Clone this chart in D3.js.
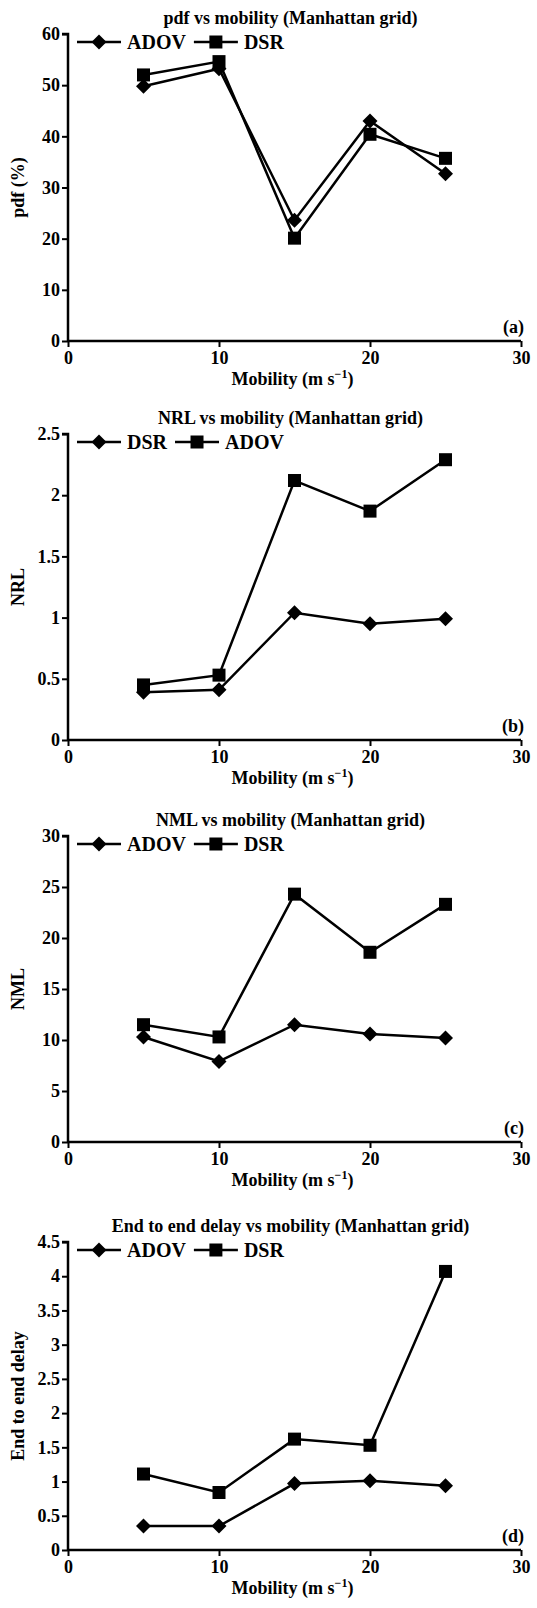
<!DOCTYPE html>
<html>
<head>
<meta charset="utf-8">
<script src="https://cdn.jsdelivr.net/npm/d3@7"></script>
<style>
  body { margin: 0; background: #fff; }
  text { font-family: "Liberation Serif", "Times New Roman", serif; font-weight: bold; fill: #000; }
</style>
</head>
<body>
<div id="chart"></div>
<script>
// data
var mobility = [5, 10, 15, 20, 25];
var xTicks = [0, 10, 20, 30];

var pdfAdov = [49.8, 53.2, 23.6, 43.0, 32.7];
var pdfDsr = [52.0, 54.6, 20.1, 40.4, 35.7];
var pdfTicks = [0, 10, 20, 30, 40, 50, 60];

var nrlDsr = [0.39, 0.41, 1.04, 0.95, 0.99];
var nrlAdov = [0.45, 0.53, 2.12, 1.87, 2.29];
var nrlTicks = [0, 0.5, 1, 1.5, 2, 2.5];

var nmlAdov = [10.3, 7.9, 11.5, 10.6, 10.2];
var nmlDsr = [11.5, 10.3, 24.3, 18.6, 23.3];
var nmlTicks = [0, 5, 10, 15, 20, 25, 30];

var delayAdov = [0.35, 0.35, 0.97, 1.01, 0.94];
var delayDsr = [1.11, 0.84, 1.62, 1.53, 4.07];
var delayTicks = [0, 0.5, 1, 1.5, 2, 2.5, 3, 3.5, 4, 4.5];

var W = 537, H = 1608;
var left = 68, right = 521;

var svg = d3.select("#chart")
  .append("svg")
  .attr("width", W)
  .attr("height", H);

var x = d3.scaleLinear().domain([0, 30]).range([left, right]);

var panels = [
  { title: "pdf vs mobility (Manhattan grid)", ylabel: "pdf (%)", tag: "(a)",
    top: 34, bottom: 341, ticks: pdfTicks,
    series: [{ name: "ADOV", values: pdfAdov, shape: "diamond" },
             { name: "DSR", values: pdfDsr, shape: "square" }] },
  { title: "NRL vs mobility (Manhattan grid)", ylabel: "NRL", tag: "(b)",
    top: 434, bottom: 740, ticks: nrlTicks,
    series: [{ name: "DSR", values: nrlDsr, shape: "diamond" },
             { name: "ADOV", values: nrlAdov, shape: "square" }] },
  { title: "NML vs mobility (Manhattan grid)", ylabel: "NML", tag: "(c)",
    top: 836, bottom: 1142, ticks: nmlTicks,
    series: [{ name: "ADOV", values: nmlAdov, shape: "diamond" },
             { name: "DSR", values: nmlDsr, shape: "square" }] },
  { title: "End to end delay vs mobility (Manhattan grid)", ylabel: "End to end delay", tag: "(d)",
    top: 1242, bottom: 1550, ticks: delayTicks,
    series: [{ name: "ADOV", values: delayAdov, shape: "diamond" },
             { name: "DSR", values: delayDsr, shape: "square" }] }
];

function marker(g, shape, cx, cy) {
  if (shape == "square") {
    g.append("rect")
      .attr("x", cx - 6.5).attr("y", cy - 6.5)
      .attr("width", 13).attr("height", 13)
      .attr("fill", "#000");
  } else {
    var r = 7.5;
    g.append("path")
      .attr("d", "M" + cx + "," + (cy - r) + "L" + (cx + r) + "," + cy +
                 "L" + cx + "," + (cy + r) + "L" + (cx - r) + "," + cy + "Z")
      .attr("fill", "#000");
  }
}

panels.forEach(function (p) {
  var ymax = p.ticks[p.ticks.length - 1];
  var y = d3.scaleLinear().domain([0, ymax]).range([p.bottom, p.top]);
  var g = svg.append("g");

  // title
  g.append("text")
    .attr("x", (left + right) / 2 - 4)
    .attr("y", p.top - 10)
    .attr("text-anchor", "middle")
    .style("font-size", "18px")
    .text(p.title);

  // axes
  var ya = g.append("g")
    .attr("transform", "translate(" + left + ",0)")
    .call(d3.axisLeft(y).tickValues(p.ticks).tickSize(6).tickPadding(2)
      .tickFormat(function (d) { return String(d); }));
  var xa = g.append("g")
    .attr("transform", "translate(0," + p.bottom + ")")
    .call(d3.axisBottom(x).tickValues(xTicks).tickSize(6).tickPadding(4)
      .tickFormat(function (d) { return String(d); }));
  [ya, xa].forEach(function (a) {
    a.select(".domain").attr("stroke", "#000").attr("stroke-width", 2.5);
    a.selectAll(".tick line").attr("stroke", "#000").attr("stroke-width", 2);
    a.selectAll(".tick text")
      .style("font-size", "18px")
      .style("font-family", "'Liberation Serif', serif")
      .style("font-weight", "bold");
  });
  ya.select(".domain").attr("d", "M-6," + p.top + "H0V" + p.bottom);
  xa.select(".domain").attr("d", "M" + left + ",0H" + right);

  // y label
  g.append("text")
    .attr("transform", "translate(24," + ((p.top + p.bottom) / 2) + ")rotate(-90)")
    .attr("text-anchor", "middle")
    .style("font-size", "18px")
    .text(p.ylabel);

  // x label
  var xl = g.append("text")
    .attr("x", (left + right) / 2 - 2)
    .attr("y", p.bottom + 44)
    .attr("text-anchor", "middle")
    .style("font-size", "18px");
  xl.append("tspan").text("Mobility (m s");
  xl.append("tspan").attr("dy", -7).style("font-size", "12px").text("\u22121");
  xl.append("tspan").attr("dy", 7).text(")");

  // panel tag
  g.append("text")
    .attr("x", right + 3)
    .attr("y", p.bottom - 8)
    .attr("text-anchor", "end")
    .style("font-size", "18px")
    .text(p.tag);

  // series lines and markers
  var line = d3.line()
    .x(function (d, i) { return x(mobility[i]); })
    .y(function (d) { return y(d); });
  p.series.forEach(function (s) {
    g.append("path")
      .datum(s.values)
      .attr("d", line)
      .attr("fill", "none")
      .attr("stroke", "#000")
      .attr("stroke-width", 2.5);
    s.values.forEach(function (v, i) {
      marker(g, s.shape, x(mobility[i]), y(v));
    });
  });

  // legend, items laid out one after the other
  var ly = p.top + 8;
  var lx = 77;
  p.series.forEach(function (s) {
    g.append("line")
      .attr("x1", lx).attr("x2", lx + 44)
      .attr("y1", ly).attr("y2", ly)
      .attr("stroke", "#000").attr("stroke-width", 2.5);
    marker(g, s.shape, lx + 22, ly);
    var t = g.append("text")
      .attr("x", lx + 50)
      .attr("y", ly + 7)
      .style("font-size", "20px")
      .text(s.name);
    lx = lx + 50 + t.node().getComputedTextLength() + 8;
  });
});
</script>
</body>
</html>
